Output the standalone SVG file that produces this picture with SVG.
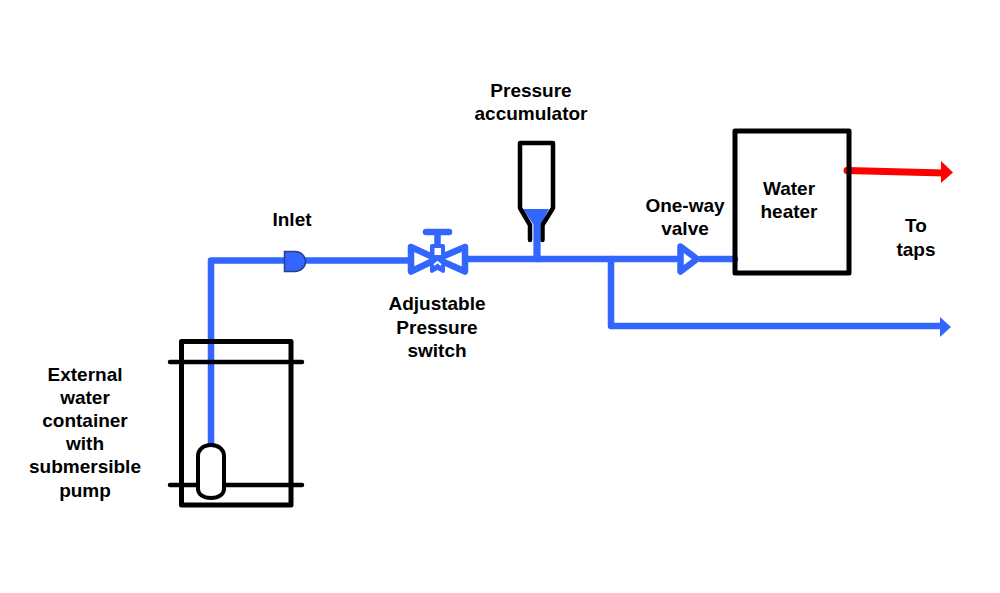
<svg xmlns="http://www.w3.org/2000/svg" width="1000" height="593" viewBox="0 0 1000 593">
<style>
.t{font-family:"Liberation Sans",Arial,sans-serif;font-weight:bold;font-size:19px;fill:#000;text-anchor:middle}
.b{fill:none;stroke:#000;stroke-width:5;stroke-linecap:round;stroke-linejoin:round}
.p{fill:none;stroke:#3366ff;stroke-width:6.5;stroke-linecap:round;stroke-linejoin:round}
.v{fill:#fff;stroke:#3366ff;stroke-width:6.5;stroke-linejoin:round}
</style>
<rect width="1000" height="593" fill="#fff"/>
<g id="connectors">
<path class="p" d="M211 444V260.500H286"/>
<path class="p" d="M303 260.500H410"/>
<path class="p" d="M465 259H677"/>
<path class="p" d="M537 215V259"/>
<path class="p" d="M701 259H735"/>
<path class="p" d="M611 259V326H942"/>
<path d="M940 317L951 327L940 337Z" fill="#3366ff"/>
<path d="M847 170.500L944 173" fill="none" stroke="#ff0000" stroke-width="7" stroke-linecap="round"/>
<path d="M941 161L953 172.500L941 183Z" fill="#ff0000"/>
</g>
<g id="container">
<rect class="b" x="181.500" y="341.500" width="109.500" height="163.500" stroke-width="5.500"/>
<path class="b" d="M170 362H302M170 485H302" style="stroke-width:4.500"/>
</g>
<g id="pump">
<path d="M211 445C203 445 198 450 198 456V489C198 494 203 498 211 498C219 498 224 494 224 489V456C224 450 219 445 211 445Z" fill="#fff" stroke="#000" stroke-width="4"/>
</g>
<g id="inlet">
<path d="M284.500 251.500H295C301 251.500 305.500 256 305.500 261.500C305.500 267 301 271.500 295 271.500H284.500Z" fill="#3366ff" stroke="#27408b" stroke-width="1.500"/>
</g>
<g id="pressure-switch">
<path class="v" d="M411 247L437 259L411 271.500Z"/>
<path class="v" d="M465 247L437 259L465 271.500Z"/>
<path class="p" d="M426 232H449M437.500 232V246"/>
<path d="M430 246Q430 244 432 244H443Q445 244 445 246V271Q445 273 443 273L437.500 270L432 273Q430 273 430 271Z" fill="#3366ff"/>
<rect x="434.500" y="248" width="6.500" height="7" fill="#fff"/>
<path d="M434 265L437.500 262L441 265" fill="none" stroke="#fff" stroke-width="2"/>
</g>
<g id="accumulator">
<path d="M523 209H549L541 224H533Z" fill="#3366ff"/>
<path class="b" d="M530 240V225L520 208V143H553V208L542.500 225V240" style="stroke-width:4.500"/>
<path d="M533.500 222H540.500V258H533.500Z" fill="#3366ff"/>
</g>
<g id="one-way-valve">
<path class="v" d="M680.500 246.500L697 259L680.500 271.500Z"/>
</g>
<g id="water-heater">
<rect class="b" x="735" y="131" width="114" height="142"/>
</g>
<g id="labels">
<text class="t" x="292" y="226">Inlet</text>
<text class="t" x="437" y="310">Adjustable</text>
<text class="t" x="437" y="334">Pressure</text>
<text class="t" x="437" y="357">switch</text>
<text class="t" x="531" y="97">Pressure</text>
<text class="t" x="531" y="120">accumulator</text>
<text class="t" x="685" y="212">One-way</text>
<text class="t" x="685" y="235">valve</text>
<text class="t" x="789" y="195">Water</text>
<text class="t" x="789" y="218">heater</text>
<text class="t" x="916" y="232">To</text>
<text class="t" x="916" y="256">taps</text>
<text class="t" x="85" y="381">External</text>
<text class="t" x="85" y="404">water</text>
<text class="t" x="85" y="427">container</text>
<text class="t" x="85" y="450">with</text>
<text class="t" x="85" y="473">submersible</text>
<text class="t" x="85" y="497">pump</text>
</g>
</svg>
